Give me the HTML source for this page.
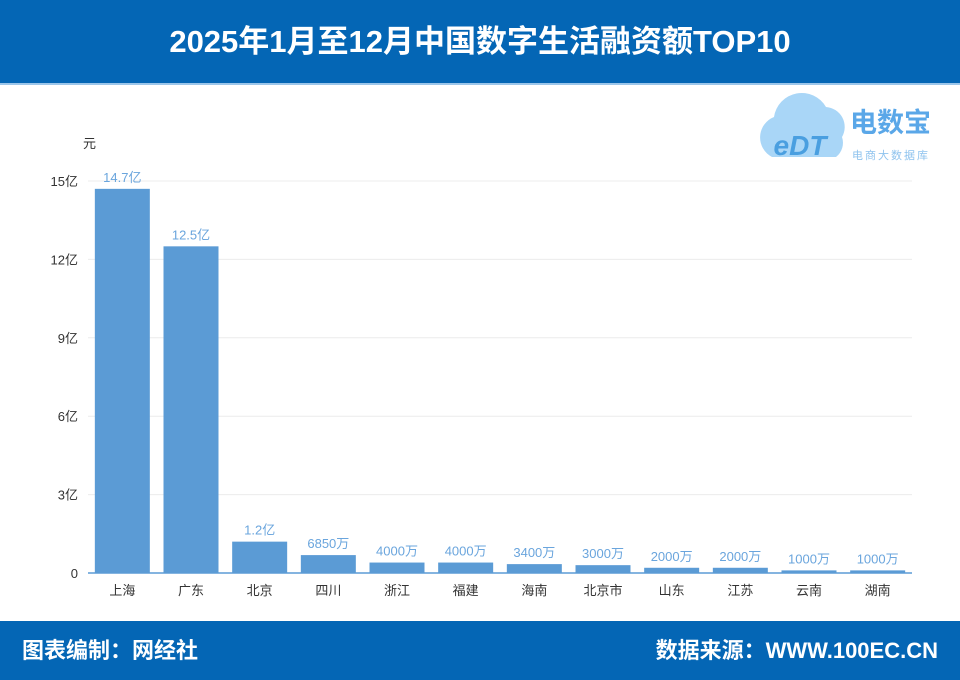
<!DOCTYPE html>
<html><head><meta charset="utf-8"><style>
body{margin:0;width:960px;height:680px;position:relative;background:#fff;font-family:"Liberation Sans","Noto Sans CJK SC",sans-serif;overflow:hidden}
.hdr{position:absolute;left:0;top:0;width:960px;height:83px;background:#0466b5;border-bottom:2px solid #9cc6ea;color:#fff;font-weight:bold;font-size:31px;text-align:center;line-height:84px}
.ftr{position:absolute;left:0;top:621px;width:960px;height:59px;background:#0466b5;color:#fff;font-weight:bold;font-size:22px;line-height:59px}
</style></head><body>
<div class="hdr">2025年1月至12月中国数字生活融资额TOP10</div>
<svg width="960" height="680" style="position:absolute;left:0;top:0">
<g>
<path d="M772,157 a22,22 0 0 1 2,-40 a28,28 0 0 1 52,-10 a20,20 0 0 1 16,30 a18,18 0 0 1 -6,20 z" fill="#a9d6f7"/>
<text x="800" y="155" font-size="28" font-weight="bold" fill="#4a9fe0" text-anchor="middle" font-style="italic">eDT</text>
<text x="850" y="132" font-size="27" font-weight="bold" fill="#5aa7e8">电数宝</text>
<text x="852" y="159" font-size="11" fill="#8fc3ee" letter-spacing="2">电商大数据库</text>
</g>
<text x="83" y="148" font-size="13" fill="#333">元</text>
<g id="grid"></g><g id="bars"></g>
</svg>
<div class="ftr"><span style="position:absolute;left:22px">图表编制：网经社</span><span style="position:absolute;right:22px">数据来源：WWW.100EC.CN</span></div>
<script>
const categories=["上海","广东","北京","四川","浙江","福建","海南","北京市","山东","江苏","云南","湖南"];
const values=[14.7,12.5,1.2,0.685,0.4,0.4,0.34,0.3,0.2,0.2,0.1,0.1];
const valueLabels=["14.7亿","12.5亿","1.2亿","6850万","4000万","4000万","3400万","3000万","2000万","2000万","1000万","1000万"];
const ticks=[0,3,6,9,12,15];
const tickLabels=["0","3亿","6亿","9亿","12亿","15亿"];
const NS="http://www.w3.org/2000/svg";
const x0=88,x1=912,y0=573,y1=181,vmax=15;
const y=v=>y0-(v/vmax)*(y0-y1);
const band=(x1-x0)/categories.length,bw=55;
const grid=document.getElementById('grid'),bars=document.getElementById('bars');
function mk(tag,attrs,parent){const e=document.createElementNS(NS,tag);for(const k in attrs)e.setAttribute(k,attrs[k]);parent.appendChild(e);return e;}
ticks.forEach((t,i)=>{
 if(t>0){const l=mk('line',{x1:x0,x2:x1,y1:y(t),y2:y(t),stroke:'#ececec'},grid);
 
 }
 const tx=mk('text',{x:78,y:y(t)+5,'font-size':13,fill:'#333','text-anchor':'end'},grid);
 tx.textContent=tickLabels[i];
 
 
});
const ax=mk('line',{x1:x0,x2:x1,y1:y0,y2:y0,stroke:'#5b9bd5','stroke-width':1.5},grid);


values.forEach((v,i)=>{
 const cx=x0+band*(i+0.5);
 const r=mk('rect',{x:cx-bw/2,y:y(v),width:bw,height:y0-y(v),fill:'#5b9bd5'},bars);
 
 
 const lb=mk('text',{x:cx,y:y(v)-7,'font-size':13,fill:'#6aa5dd','text-anchor':'middle'},bars);
 lb.textContent=valueLabels[i];
 
 
 const c=mk('text',{x:cx,y:595,'font-size':13,fill:'#333','text-anchor':'middle'},bars);
 c.textContent=categories[i];
 
 
});
</script>
</body></html>
